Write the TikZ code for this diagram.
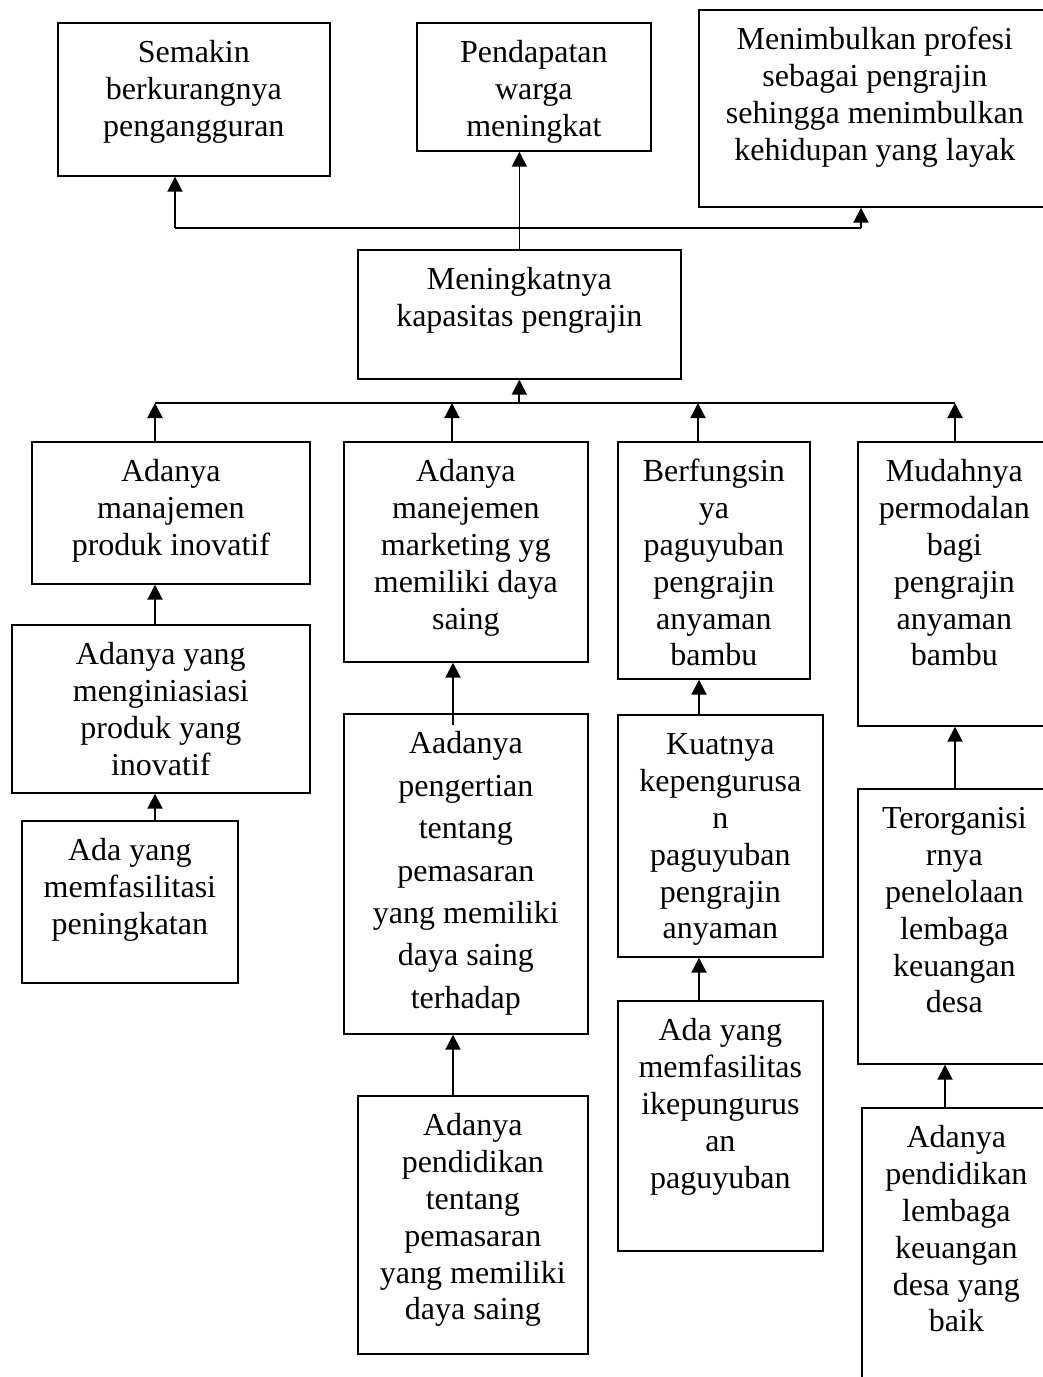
\documentclass[tikz,border=0pt]{standalone}
\usepackage{fontspec}
\setmainfont{Liberation Serif}
\usetikzlibrary{arrows.meta,calc}
\newcommand\bxt[4][36.8]{\parbox[t][#3pt][t]{#2pt}{\fontsize{32}{#1}\selectfont\centering\rule{0pt}{40pt}#4}}
\tikzset{
  box/.style={draw, line width=1.7pt, inner sep=0pt, anchor=north west},
  arr/.style={-{Triangle[length=15pt,width=15pt]}, line width=2pt},
  link/.style={line width=2pt}
}
\begin{document}
\begin{tikzpicture}[x=1pt,y=-1pt]
\useasboundingbox (0,0) rectangle (1043,1377);
\fill[white] (0,0) rectangle (1043,1377);
\clip (0,0) rectangle (1043,1377);
% top row
\node[box] (A) at (57,22) {\bxt{272}{153}{Semakin\\berkurangnya\\pengangguran}};
\node[box] (B) at (416,22) {\bxt{234}{128}{Pendapatan\\warga\\meningkat}};
\node[box] (C) at (698,9) {\bxt{352}{197}{Menimbulkan profesi\\sebagai pengrajin\\sehingga menimbulkan\\kehidupan yang layak}};
% center
\node[box] (P) at (357,249) {\bxt{323}{129}{Meningkatnya\\kapasitas pengrajin}};
% second row
\node[box] (D) at (31,441) {\bxt{278}{142}{Adanya\\manajemen\\produk inovatif}};
\node[box] (E) at (343,441) {\bxt{244}{220}{Adanya\\manejemen\\marketing yg\\memiliki daya\\saing}};
\node[box] (F) at (617,441) {\bxt{192}{237}{Berfungsin\\ya\\paguyuban\\pengrajin\\anyaman\\bambu}};
\node[box] (G) at (857,441) {\bxt{193}{284}{Mudahnya\\permodalan\\bagi\\pengrajin\\anyaman\\bambu}};
% third row
\node[box] (H) at (11,624) {\bxt{298}{168}{Adanya yang\\menginiasiasi\\produk yang\\inovatif}};
\node[box] (J) at (343,713) {\bxt[42.4]{244}{320}{Aadanya\\pengertian\\tentang\\pemasaran\\yang memiliki\\daya saing\\terhadap}};
\node[box] (L) at (617,714) {\bxt{205}{242}{Kuatnya\\kepengurusa\\n\\paguyuban\\pengrajin\\anyaman}};
\node[box] (N) at (857,788) {\bxt{193}{275}{Terorganisi\\rnya\\penelolaan\\lembaga\\keuangan\\desa}};
% fourth row
\node[box] (I) at (21,820) {\bxt{216}{162}{Ada yang\\memfasilitasi\\peningkatan}};
\node[box] (K) at (357,1095) {\bxt{230}{258}{Adanya\\pendidikan\\tentang\\pemasaran\\yang memiliki\\daya saing}};
\node[box] (M) at (617,1000) {\bxt{205}{250}{Ada yang\\memfasilitas\\ikepungurus\\an\\paguyuban}};
\node[box] (O) at (861,1107) {\bxt{189}{283}{Adanya\\pendidikan\\lembaga\\keuangan\\desa yang\\baik}};
% helper coordinates
\coordinate (tl) at (175,228);
\coordinate (tr) at (861,228);
\coordinate (bl) at (155,403);
\coordinate (br) at (955,403);
\coordinate (bE) at (452,403);
\coordinate (bF) at (698,403);
\coordinate (cD) at (155,0);
\coordinate (cJ) at (453,0);
\coordinate (cL) at (699,0);
\coordinate (cN) at (955,0);
\coordinate (cO) at (945,0);
% upper connectors
\draw[arr, line width=1.5pt] (P.north) -- (P.north |- B.south);
\draw[link] (tl) -- (tr);
\draw[arr] (tl) -- (tl |- A.south);
\draw[arr] (tr) -- (tr |- C.south);
% lower bracket
\draw[link] (bl) -- (br);
\draw[arr] (P.south |- bl) -- (P.south);
\draw[arr] (bl |- D.north) -- (bl);
\draw[arr] (bE |- E.north) -- (bE);
\draw[arr] (bF |- F.north) -- (bF);
\draw[arr] (br |- G.north) -- (br);
% chains
\draw[arr] (cD |- H.north) -- (cD |- D.south);
\draw[arr] (cD |- I.north) -- (cD |- H.south);
\draw[arr] ($(cJ |- J.north)+(0,12)$) -- (cJ |- E.south);
\draw[arr] (cJ |- K.north) -- (cJ |- J.south);
\draw[arr] (cL |- L.north) -- (cL |- F.south);
\draw[arr] (cL |- M.north) -- (cL |- L.south);
\draw[arr] (cN |- N.north) -- (cN |- G.south);
\draw[arr] (cO |- O.north) -- (cO |- N.south);
\end{tikzpicture}
\end{document}
